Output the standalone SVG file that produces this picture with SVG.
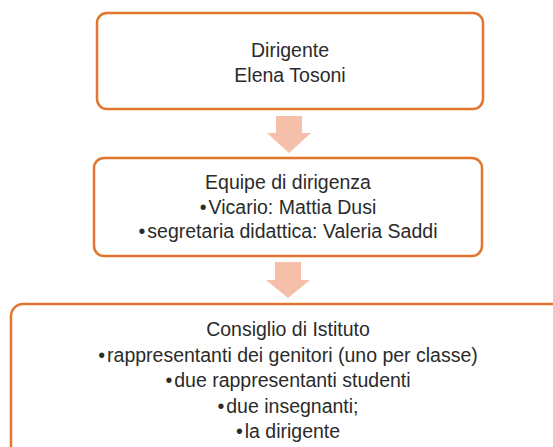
<svg xmlns="http://www.w3.org/2000/svg" width="553" height="447" viewBox="0 0 553 447">
<style>
.box{fill:#ffffff;stroke:#E2762F;stroke-width:2.5}
.arr{fill:#F5BFA9;stroke:none}
text{font-family:"Liberation Sans",Arial,sans-serif;font-size:19.5px;fill:#2b2b2b;text-anchor:middle}
</style>
<rect width="553" height="447" fill="#ffffff"/>
<g id="connectors">
<path class="arr" d="M276,116 H302 V133 H311 L289,153 L267,133 H276 Z"/>
<path class="arr" d="M275,262 H301 V280 H310 L288,298 L266,280 H275 Z"/>
</g>
<g id="node-dirigente">
<rect class="box" x="97" y="13" width="386" height="96" rx="10"/>
<text x="290" y="57">Dirigente</text>
<text x="290" y="82">Elena Tosoni</text>
</g>
<g id="node-equipe">
<rect class="box" x="94" y="158" width="388" height="98" rx="10"/>
<text x="288" y="189">Equipe di dirigenza</text>
<text x="288" y="213.5">•<tspan dx="2">Vicario: Mattia Dusi</tspan></text>
<text x="288" y="238">•<tspan dx="2">segretaria didattica: Valeria Saddi</tspan></text>
</g>
<g id="node-consiglio">
<rect class="box" x="11" y="304" width="560" height="170" rx="12"/>
<text x="288" y="336">Consiglio di Istituto</text>
<text x="288" y="361.5">•<tspan dx="2">rappresentanti dei genitori (uno per classe)</tspan></text>
<text x="288" y="387">•<tspan dx="2">due rappresentanti studenti</tspan></text>
<text x="288" y="412.5">•<tspan dx="2">due insegnanti;</tspan></text>
<text x="288" y="438">•<tspan dx="2">la dirigente</tspan></text>
</g>
</svg>
